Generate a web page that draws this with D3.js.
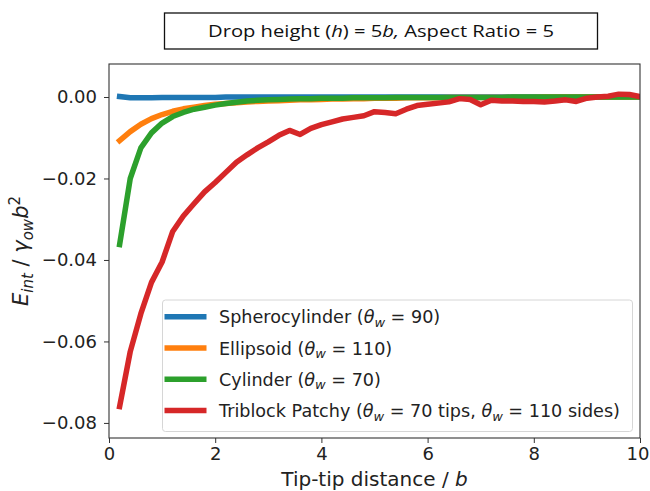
<!DOCTYPE html>
<html>
<head>
<meta charset="utf-8">
<script src="https://cdn.jsdelivr.net/npm/d3@7"></script>
<style>
  body { margin: 0; background: #fff; }
  svg { display: block; }
</style>
</head>
<body>
<script>
// tip-tip distance / b
const distances = [
  0.2, 0.4, 0.6, 0.8, 1.0, 1.2, 1.4, 1.6, 1.8, 2.0,
  2.2, 2.4, 2.6, 2.8, 3.0, 3.2, 3.4, 3.6, 3.8, 4.0,
  4.2, 4.4, 4.6, 4.8, 5.0, 5.2, 5.4, 5.6, 5.8, 6.0,
  6.2, 6.4, 6.6, 6.8, 7.0, 7.2, 7.4, 7.6, 7.8, 8.0,
  8.2, 8.4, 8.6, 8.8, 9.0, 9.2, 9.4, 9.6, 9.8, 10.0
];

const spherocylinder = [
  0.0001, -0.0002, -0.0002, -0.0002, -0.0001, -0.0001, -0.0001, -0.0001, -0.0001, -0.0001,
  0, 0, 0, 0, 0, 0, 0, 0, 0, 0,
  0, 0, 0, 0, 0, 0, 0, 0, 0, 0,
  0, 0, 0, 0, 0, 0, 0, 0, 0, 0,
  0, 0, 0, 0, 0, 0, 0, 0, 0, 0
];

const ellipsoid = [
  -0.0107, -0.0085, -0.0067, -0.0053, -0.0043, -0.0035, -0.0029, -0.0025, -0.0021, -0.0018,
  -0.0016, -0.0014, -0.0012, -0.0011, -0.0010, -0.0009, -0.0008, -0.0007, -0.0007, -0.0006,
  -0.0005, -0.0005, -0.0004, -0.0004, -0.0003, -0.0003, -0.0003, -0.0002, -0.0002, -0.0002,
  -0.0002, -0.0001, -0.0001, -0.0001, -0.0001, -0.0001, -0.0001, -0.0001, -0.0001, -0.0001,
  0, 0, 0, 0, 0, 0, 0, 0, 0, 0
];

const cylinder = [
  -0.0362, -0.0200, -0.0125, -0.0088, -0.0064, -0.0048, -0.0038, -0.0030, -0.0025, -0.0020,
  -0.0016, -0.0013, -0.0010, -0.0008, -0.0007, -0.0006, -0.0005, -0.0004, -0.0004, -0.0003,
  -0.0003, -0.0003, -0.0002, -0.0002, -0.0002, -0.0002, -0.0001, -0.0001, -0.0001, -0.0001,
  -0.0001, -0.0001, -0.0001, -0.0001, -0.0001, -0.0001, -0.0001, 0, 0, 0,
  0, 0, 0, 0, 0, 0, 0, 0, 0, 0
];

const triblock = [
  -0.0760, -0.0625, -0.0532, -0.0455, -0.0405, -0.0330, -0.0292, -0.0262, -0.0233, -0.0210,
  -0.0185, -0.0160, -0.0142, -0.0125, -0.0110, -0.0094, -0.0082, -0.0092, -0.0077, -0.0068,
  -0.0061, -0.0054, -0.0050, -0.0046, -0.0036, -0.0038, -0.0041, -0.0030, -0.0021, -0.0018,
  -0.0015, -0.0012, -0.0004, -0.0006, -0.0019, -0.0008, -0.0010, -0.0010, -0.0011, -0.0011,
  -0.0012, -0.0010, -0.0007, -0.0011, -0.0003, 0.0000, 0.0002, 0.0007, 0.0006, 0.0001
];

const xTicks = [0, 2, 4, 6, 8, 10];
const yTicks = [0, -0.02, -0.04, -0.06, -0.08];

const series = [
  { name: "Spherocylinder", theta: [" = 90)"], values: spherocylinder, color: "#1f77b4" },
  { name: "Ellipsoid", theta: [" = 110)"], values: ellipsoid, color: "#ff7f0e" },
  { name: "Cylinder", theta: [" = 70)"], values: cylinder, color: "#2ca02c" },
  { name: "Triblock Patchy", theta: [" = 70 tips, ", " = 110 sides)"], values: triblock, color: "#d62728" }
];

const width = 650, height = 491;
const margin = { top: 64, right: 10, bottom: 53, left: 109 };

const svg = d3.select("body").append("svg")
  .attr("width", width)
  .attr("height", height)
  .style("font-family", "'DejaVu Sans', sans-serif");

const x = d3.scaleLinear().domain([0, 10]).range([margin.left, width - margin.right]);
const y = d3.scaleLinear().domain([-0.0837, 0.0081]).range([height - margin.bottom, margin.top]);

// clip lines to axes area like matplotlib
svg.append("clipPath").attr("id", "plot-clip")
  .append("rect")
  .attr("x", x(0)).attr("y", y(0.0081))
  .attr("width", x(10) - x(0)).attr("height", y(-0.0837) - y(0.0081));

const line = d3.line()
  .x((d, i) => x(distances[i]))
  .y(d => y(d));

svg.append("g")
  .attr("clip-path", "url(#plot-clip)")
  .selectAll("path")
  .data(series)
  .join("path")
  .attr("d", d => line(d.values))
  .attr("fill", "none")
  .attr("stroke", d => d.color)
  .attr("stroke-width", 5.5)
  .attr("stroke-linejoin", "round")
  .attr("stroke-linecap", "square");

// axes
const xAxis = svg.append("g")
  .attr("transform", `translate(0,${y(-0.0837)})`)
  .call(d3.axisBottom(x).tickValues(xTicks).tickFormat(d3.format("d")).tickSize(5).tickPadding(4).tickSizeOuter(0));

const yAxis = svg.append("g")
  .attr("transform", `translate(${x(0)},0)`)
  .call(d3.axisLeft(y).tickValues(yTicks).tickFormat(d3.format(".2f")).tickSize(5).tickPadding(7).tickSizeOuter(0));

[xAxis, yAxis].forEach(a => {
  a.select(".domain").remove();
  a.selectAll(".tick line").attr("stroke", "#333").attr("stroke-width", 1);
  a.selectAll(".tick text").attr("fill", "#222").style("font-size", "18px").style("font-family", "'DejaVu Sans', sans-serif");
});

// last x label sits right on the page edge, nudge it in
xAxis.selectAll(".tick text").filter(d => d === 10).attr("dx", -2.5);

// frame
svg.append("rect")
  .attr("x", x(0)).attr("y", y(0.0081))
  .attr("width", x(10) - x(0)).attr("height", y(-0.0837) - y(0.0081))
  .attr("fill", "none")
  .attr("stroke", "#333")
  .attr("stroke-width", 1.1);

// x label
const xl = svg.append("text")
  .attr("x", (x(0) + x(10)) / 2)
  .attr("y", 486)
  .attr("text-anchor", "middle")
  .attr("fill", "#222")
  .style("font-size", "20px");
xl.append("tspan").text("Tip-tip distance / ");
xl.append("tspan").attr("font-style", "italic").text("b");

// y label
const yl = svg.append("text")
  .attr("transform", `translate(28,${(y(0.0081) + y(-0.0837)) / 2}) rotate(-90)`)
  .attr("text-anchor", "middle")
  .attr("fill", "#222")
  .style("font-size", "21px");
yl.append("tspan").attr("font-style", "italic").text("E");
yl.append("tspan").attr("font-style", "italic").attr("dy", 5).style("font-size", "15px").text("int");
yl.append("tspan").attr("dy", -5).text(" / ");
yl.append("tspan").attr("font-style", "italic").text("γ");
yl.append("tspan").attr("font-style", "italic").attr("dy", 5).style("font-size", "15px").text("ow");
yl.append("tspan").attr("font-style", "italic").attr("dy", -5).text("b");
yl.append("tspan").attr("dy", -8).style("font-size", "15px").text("2");

// legend
const legend = svg.append("g");
legend.append("rect")
  .attr("x", 162.5).attr("y", 300)
  .attr("width", 470).attr("height", 131.5)
  .attr("rx", 3)
  .attr("fill", "#fff")
  .attr("fill-opacity", 0.8)
  .attr("stroke", "#d6d6d6")
  .attr("stroke-width", 1);

const rows = legend.selectAll("g.row")
  .data(series)
  .join("g")
  .attr("class", "row")
  .attr("transform", (d, i) => `translate(0,${316.7 + i * 31.3})`);

rows.append("line")
  .attr("x1", 164.5).attr("x2", 206.5)
  .attr("stroke", d => d.color)
  .attr("stroke-width", 5.5);

rows.each(function (d) {
  const t = d3.select(this).append("text")
    .attr("x", 219)
    .attr("y", 6.5)
    .attr("fill", "#222")
    .style("font-size", "17.6px");
  t.append("tspan").text(d.name + " (");
  d.theta.forEach(part => {
    t.append("tspan").attr("font-style", "italic").text("θ");
    t.append("tspan").attr("font-style", "italic").attr("dy", 3.5).style("font-size", "13px").text("w");
    t.append("tspan").attr("dy", -3.5).text(part);
  });
});

// title box
svg.append("rect")
  .attr("x", 164.5).attr("y", 13)
  .attr("width", 433).attr("height", 36)
  .attr("fill", "#fff")
  .attr("stroke", "#111")
  .attr("stroke-width", 1.3);

const title = svg.append("text")
  .attr("x", 381)
  .attr("y", 37)
  .attr("text-anchor", "middle")
  .attr("fill", "#111")
  .style("font-family", "'Open Sans', 'Noto Sans', sans-serif")
  .style("font-size", "17px")
  .attr("textLength", 346)
  .attr("lengthAdjust", "spacingAndGlyphs");
title.append("tspan").text("Drop height (");
title.append("tspan").attr("font-style", "italic").text("h");
title.append("tspan").text(") = 5");
title.append("tspan").attr("font-style", "italic").text("b,");
title.append("tspan").text(" Aspect Ratio = 5");
</script>
</body>
</html>
